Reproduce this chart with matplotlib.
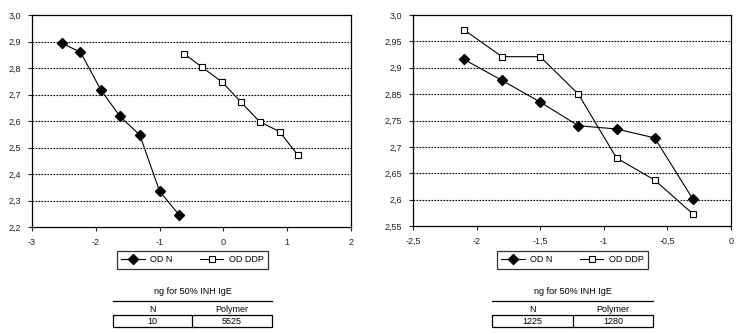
import matplotlib
matplotlib.use("Agg")
import matplotlib.pyplot as plt
from matplotlib.lines import Line2D
from matplotlib.patches import Rectangle

plt.rcParams['font.family'] = ['Liberation Sans', 'DejaVu Sans']
plt.rcParams['font.size'] = 6.5

# left panel
left_n_x = [-2.53, -2.24, -1.92, -1.62, -1.31, -1.00, -0.70]
left_n_y = [2.893, 2.860, 2.717, 2.617, 2.547, 2.335, 2.247]
left_ddp_x = [-0.61, -0.33, -0.02, 0.28, 0.57, 0.88, 1.17]
left_ddp_y = [2.853, 2.802, 2.747, 2.670, 2.597, 2.560, 2.470]
left_xticks = [-3, -2, -1, 0, 1, 2]
left_xlabels = ['-3', '-2', '-1', '0', '1', '2']
left_yticks = [2.2, 2.3, 2.4, 2.5, 2.6, 2.7, 2.8, 2.9, 3.0]
left_ylabels = ['2,2', '2,3', '2,4', '2,5', '2,6', '2,7', '2,8', '2,9', '3,0']

# right panel (tick labels as printed in the original, evenly spaced)
right_n_x = [-2.1, -1.8, -1.5, -1.2, -0.9, -0.6, -0.3]
right_n_y = [2.866, 2.826, 2.785, 2.740, 2.734, 2.717, 2.601]
right_ddp_x = [-2.1, -1.8, -1.5, -1.2, -0.9, -0.6, -0.3]
right_ddp_y = [2.922, 2.871, 2.871, 2.800, 2.679, 2.637, 2.573]
right_xticks = [-2.5, -2.0, -1.5, -1.0, -0.5, 0.0]
right_xlabels = ['-2,5', '-2', '-1,5', '-1', '-0,5', '0']
right_yticks = [2.55, 2.60, 2.65, 2.70, 2.75, 2.80, 2.85, 2.90, 2.95]
right_ylabels = ['2,55', '2,6', '2,65', '2,7', '2,75', '2,85', '2,9', '2,95', '3,0']

series_names = ['OD N', 'OD DDP']
table_title = 'ng for 50% INH IgE'
table_header = ['N', 'Polymer']
left_table = ['10', '5525']
right_table = ['1225', '1280']

W, H = 743, 334
fig = plt.figure(figsize=(W / 100, H / 100), dpi=100)


def px_axes(x0, y0, x1, y1):
    return fig.add_axes([x0 / W, 1 - y1 / H, (x1 - x0) / W, (y1 - y0) / H])


def style(ax, xt, xl, yt, yl):
    ax.set_xlim(xt[0], xt[-1])
    ax.set_ylim(yt[0], yt[-1])
    ax.set_xticks(xt)
    ax.set_xticklabels(xl)
    ax.set_yticks(yt)
    ax.set_yticklabels(yl)
    for y in yt[1:-1]:
        ax.axhline(y, color='black', lw=0.8, ls=(0, (1.5, 1.2)), zorder=1)
    for s in ax.spines.values():
        s.set_linewidth(0.9)
    ax.tick_params(direction='out', length=3, width=0.8, pad=5, colors='#222222')


def draw(ax, nx, ny, dx, dy):
    ax.plot(nx, ny, color='black', lw=0.8, marker='D', ms=5.5,
            mfc='black', mec='black', label=series_names[0], zorder=3)
    ax.plot(dx, dy, color='black', lw=0.8, marker='s', ms=5,
            mfc='white', mec='black', mew=0.8, label=series_names[1], zorder=3)


def legend_and_table(x0, x1, xdiv, vals):
    h, l = ax.get_legend_handles_labels()
    leg = fig.legend(h, l, loc='center', ncol=2, frameon=True, fancybox=False,
                     bbox_to_anchor=((x0 + x1) / 2 / W, 1 - 260 / H),
                     handlelength=2.6, columnspacing=3.0, borderpad=0.5,
                     handletextpad=0.6, fontsize=6.5)
    leg.get_frame().set_edgecolor('black')
    leg.get_frame().set_linewidth(0.9)
    fy = lambda y: 1 - y / H
    fig.text((x0 + x1) / 2 / W, fy(292), table_title, ha='center', va='center')
    fig.add_artist(Line2D([x0 / W, x1 / W], [fy(301), fy(301)], color='black', lw=0.9))
    fig.text((x0 + xdiv) / 2 / W, fy(309), table_header[0], ha='center', va='center')
    fig.text((xdiv + x1) / 2 / W, fy(309), table_header[1], ha='center', va='center')
    fig.add_artist(Rectangle((x0 / W, fy(327)), (x1 - x0) / W, 12.5 / H,
                             fill=False, ec='black', lw=0.9))
    fig.add_artist(Line2D([xdiv / W, xdiv / W], [fy(314.5), fy(327)], color='black', lw=0.9))
    fig.text((x0 + xdiv) / 2 / W, fy(321), vals[0], ha='center', va='center')
    fig.text((xdiv + x1) / 2 / W, fy(321), vals[1], ha='center', va='center')


ax = px_axes(32, 15, 351, 227)
style(ax, left_xticks, left_xlabels, left_yticks, left_ylabels)
draw(ax, left_n_x, left_n_y, left_ddp_x, left_ddp_y)
legend_and_table(113, 272, 191.5, left_table)

ax = px_axes(413, 15, 731, 226)
style(ax, right_xticks, right_xlabels, right_yticks, right_ylabels)
draw(ax, right_n_x, right_n_y, right_ddp_x, right_ddp_y)
legend_and_table(492, 653, 573, right_table)

fig.savefig('out.png', dpi=100)
